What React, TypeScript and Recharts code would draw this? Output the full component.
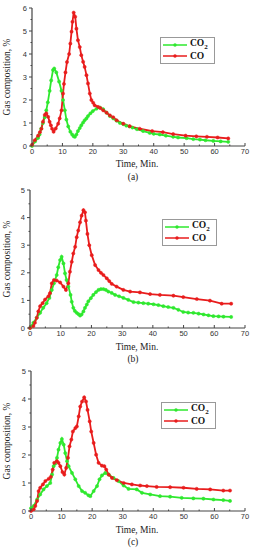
import React from "react";
import { LineChart, Line, XAxis, YAxis } from "recharts";

// Panel (a)
const timeA_CO2 = [0, 1, 2, 2.5, 3, 3.6, 4.2, 4.7, 5.2, 5.8, 6.3, 6.9, 7.3, 8, 8.9, 9.7, 10.2, 10.8, 11.3, 11.9, 12.6, 13.2, 13.7, 14.1, 14.6, 15.1, 15.7, 16.2, 16.8, 17.3, 17.9, 18.4, 19.2, 20, 21.2, 22.3, 23.4, 24.5, 25.6, 26.7, 27.8, 28.9, 30, 31, 32, 33, 34.5, 36.5, 38.7, 40, 42, 44, 46.4, 48, 50.8, 53, 55.2, 57, 59.6, 62, 64.5];
const valA_CO2 = [0, 0.2, 0.35, 0.5, 0.75, 1.0, 1.25, 1.55, 1.9, 2.4, 2.85, 3.3, 3.37, 3.2, 2.8, 2.4, 2.0, 1.55, 1.15, 0.85, 0.62, 0.5, 0.42, 0.4, 0.5, 0.65, 0.78, 0.9, 1.02, 1.12, 1.2, 1.3, 1.42, 1.52, 1.62, 1.67, 1.6, 1.45, 1.3, 1.2, 1.1, 1.0, 0.95, 0.88, 0.85, 0.8, 0.73, 0.65, 0.57, 0.53, 0.5, 0.45, 0.4, 0.37, 0.34, 0.3, 0.28, 0.25, 0.22, 0.2, 0.18];
const timeA_CO = [0, 0.9, 2, 2.6, 3.1, 3.6, 4.2, 4.7, 5.3, 5.8, 6.2, 6.6, 7.1, 7.8, 8.6, 9.1, 9.7, 10.2, 10.5, 11, 11.5, 12.2, 12.6, 13, 13.3, 13.7, 14.2, 14.6, 15.1, 15.7, 16.2, 16.8, 17.3, 17.9, 18.4, 19, 19.5, 20.1, 20.6, 21.7, 22.5, 23.4, 24.5, 25.6, 26.7, 27.8, 30, 32.1, 35.4, 39.5, 43, 46.4, 50.5, 54, 57.5, 61, 64.5];
const valA_CO = [0.05, 0.25, 0.45, 0.6, 0.75, 1.05, 1.35, 1.42, 1.27, 1.05, 0.9, 0.75, 0.62, 0.76, 0.97, 1.2, 1.55, 2.28, 2.7, 3.2, 3.65, 4.0, 4.45, 4.97, 5.4, 5.8, 5.62, 5.1, 4.6, 4.3, 3.95, 3.66, 3.44, 3.08, 2.72, 2.28, 2.0, 1.88, 1.77, 1.7, 1.65, 1.55, 1.45, 1.33, 1.25, 1.12, 0.97, 0.86, 0.75, 0.65, 0.6, 0.52, 0.45, 0.42, 0.4, 0.37, 0.33];

// Panel (b)
const timeB_CO2 = [0, 0.5, 1.1, 2.2, 3.3, 4.3, 5.4, 6.3, 7.1, 7.8, 8.7, 9.2, 9.8, 10.3, 10.9, 11.4, 11.9, 12.5, 13.2, 13.6, 14.1, 14.6, 15.2, 15.8, 16.3, 16.8, 17.4, 17.9, 18.5, 19, 19.8, 20.6, 21.5, 22.3, 23.1, 23.9, 24.7, 25.5, 26.6, 27.7, 29, 30.4, 32, 33.7, 35.3, 36.9, 38.5, 40.2, 41.8, 43.4, 45, 46.7, 48.3, 49.9, 51.5, 53.2, 54.9, 56.5, 58.1, 59.7, 61.4, 63, 65.5];
const valB_CO2 = [0, 0.07, 0.19, 0.37, 0.55, 0.73, 0.9, 1.09, 1.38, 1.62, 1.92, 2.2, 2.46, 2.58, 2.34, 1.98, 1.74, 1.5, 1.2, 0.95, 0.73, 0.62, 0.55, 0.5, 0.45, 0.49, 0.6, 0.73, 0.85, 0.97, 1.08, 1.2, 1.3, 1.38, 1.41, 1.41, 1.38, 1.32, 1.27, 1.2, 1.15, 1.09, 1.02, 0.94, 0.92, 0.9, 0.88, 0.86, 0.83, 0.79, 0.76, 0.73, 0.66, 0.58, 0.56, 0.55, 0.52, 0.49, 0.46, 0.43, 0.42, 0.41, 0.4];
const timeB_CO = [0, 1.1, 1.6, 2.2, 2.7, 3.3, 4.1, 4.9, 6, 6.5, 7.1, 7.8, 8.7, 9.8, 10.9, 11.7, 12.5, 13, 13.6, 14.1, 14.7, 15.2, 15.7, 16.3, 16.8, 17.4, 17.9, 18.2, 18.7, 19.3, 20.1, 21.2, 22.3, 23.1, 23.9, 25, 25.8, 26.6, 28.2, 30.4, 32.6, 35.8, 39.1, 42.3, 46.7, 49.9, 54.3, 58.6, 62.4, 65.5];
const valB_CO = [0, 0.07, 0.19, 0.37, 0.6, 0.79, 0.9, 1.03, 1.15, 1.26, 1.62, 1.74, 1.72, 1.65, 1.5, 1.38, 1.62, 2.04, 2.4, 2.7, 2.94, 3.29, 3.53, 3.83, 4.07, 4.27, 4.19, 3.89, 3.41, 3.0, 2.64, 2.28, 2.1, 2.0, 1.92, 1.8, 1.7, 1.6, 1.5, 1.38, 1.32, 1.29, 1.23, 1.2, 1.17, 1.12, 1.05, 0.99, 0.88, 0.88];

// Panel (c)
const timeC_CO2 = [0, 0.9, 2, 3, 4.1, 5.2, 6.3, 6.9, 7.4, 7.9, 8.5, 9, 9.6, 10.1, 10.7, 11.2, 11.8, 12.3, 13.4, 14.5, 15.6, 16.7, 17.7, 18.8, 19.4, 20.5, 21.6, 22.4, 23.2, 24.3, 25.4, 27, 28.6, 30.3, 31.9, 34.6, 36.3, 39, 42.2, 45.5, 49.3, 53.1, 56.4, 59.7, 62.9, 65.1];
const valC_CO2 = [0.1, 0.18, 0.41, 0.59, 0.77, 0.89, 1.0, 1.3, 1.6, 1.69, 1.9, 2.19, 2.43, 2.57, 2.37, 2.07, 1.78, 1.6, 1.36, 1.13, 0.89, 0.71, 0.65, 0.56, 0.53, 0.71, 0.89, 1.13, 1.27, 1.36, 1.3, 1.18, 1.07, 0.91, 0.79, 0.77, 0.65, 0.59, 0.53, 0.51, 0.47, 0.45, 0.44, 0.41, 0.39, 0.36];
const timeC_CO = [0, 0.9, 1.4, 2, 2.5, 3, 3.9, 4.7, 5.8, 6.5, 7.1, 7.6, 8.5, 9, 9.6, 10.3, 10.9, 11.5, 12.1, 12.6, 13.2, 13.7, 14.5, 15, 15.6, 16.1, 16.7, 17.4, 18, 18.5, 19.2, 19.7, 20.5, 21.3, 22.1, 23.2, 24, 24.6, 25.4, 26.5, 28.1, 30.3, 33, 35.7, 37.9, 41.1, 45.5, 49.9, 54.2, 58.6, 62.9, 65.1];
const valC_CO = [0, 0.06, 0.18, 0.36, 0.71, 0.83, 0.95, 1.07, 1.15, 1.22, 1.48, 1.72, 1.78, 1.72, 1.6, 1.39, 1.3, 1.54, 1.9, 2.31, 2.55, 2.84, 2.96, 3.02, 3.38, 3.73, 3.91, 4.06, 3.91, 3.61, 3.2, 2.84, 2.43, 2.01, 1.72, 1.62, 1.6, 1.48, 1.3, 1.18, 1.1, 1.0, 0.95, 0.91, 0.89, 0.86, 0.85, 0.83, 0.79, 0.77, 0.73, 0.73];

const xTicks = [0, 5, 10, 15, 20, 25, 30, 35, 40, 45, 50, 55, 60, 65, 70];

const GREEN = "#2ee82e";
const RED = "#e81c1c";
const AXIS = "#444";
const SERIF = "'Liberation Serif', 'Times New Roman', serif";
const SANS = "'Liberation Sans', Arial, sans-serif";

const zip = (t: number[], v: number[]) => t.map((x, i) => ({ t: x, v: v[i] }));

function XTick(props: any) {
  const { x, y, payload } = props;
  const major = payload.value % 10 === 0;
  return (
    <g>
      <line x1={x} x2={x} y1={y} y2={y - (major ? 3 : 1.5)} stroke={AXIS} strokeWidth={1} />
      {major && (
        <text x={x} y={y + 8} textAnchor="middle" fontSize={7.5} fontFamily={SANS} fill="#333">
          {payload.value}
        </text>
      )}
    </g>
  );
}

function YTick(props: any) {
  const { x, y, payload } = props;
  const major = payload.value % 1 === 0;
  return (
    <g>
      <line x1={x} x2={x - (major ? 3 : 1.5)} y1={y} y2={y} stroke={AXIS} strokeWidth={1} />
      {major && (
        <text x={x - 5} y={y + 2.6} textAnchor="end" fontSize={7.5} fontFamily={SANS} fill="#333">
          {payload.value}
        </text>
      )}
    </g>
  );
}

function LegendBox({ left, top }: { left: number; top: number }) {
  const row = (color: string, label: React.ReactNode) => (
    <div style={{ display: "flex", alignItems: "center", height: 11.5 }}>
      <svg width={24} height={6} style={{ marginRight: 3 }}>
        <line x1={0} x2={24} y1={3} y2={3} stroke={color} strokeWidth={1.5} />
        <circle cx={12} cy={3} r={1.7} fill={color} />
      </svg>
      <span style={{ fontFamily: SERIF, fontWeight: "bold", fontSize: 9.5, color: "#111" }}>{label}</span>
    </div>
  );
  return (
    <div
      style={{
        position: "absolute",
        left,
        top,
        width: 51,
        height: 24,
        border: "1px solid #999",
        padding: "1px 0 0 2px",
        boxSizing: "content-box",
        background: "#fff",
      }}
    >
      {row(GREEN, <>CO<sub style={{ fontSize: 7 }}>2</sub></>)}
      {row(RED, "CO")}
    </div>
  );
}

interface PanelProps {
  top: number;
  plotTop: number;
  plotBottom: number;
  left: number;
  yMax: number;
  co2: { t: number; v: number }[];
  co: { t: number; v: number }[];
  caption: string;
  timeY: number;
  capY: number;
  legend: { left: number; top: number };
}

function Panel(p: PanelProps) {
  const width = 254;
  const right = 245;
  const axisH = 14;
  const height = p.plotBottom + axisH;
  const yTicks: number[] = [];
  for (let i = 0; i <= p.yMax * 2; i++) yTicks.push(i / 2);
  const plotMid = (p.plotTop + p.plotBottom) / 2;
  const textStyle: React.CSSProperties = {
    position: "absolute",
    whiteSpace: "nowrap",
    fontFamily: SERIF,
    fontSize: 9.5,
    color: "#222",
  };
  return (
    <div style={{ position: "absolute", left: 0, top: p.top, width, height: 180 }}>
      <LineChart
        width={width}
        height={height}
        margin={{ top: p.plotTop, right: width - right, left: 0, bottom: 0 }}
      >
        <XAxis
          dataKey="t"
          type="number"
          domain={[0, 70]}
          ticks={xTicks}
          interval={0}
          tick={<XTick />}
          tickSize={0}
          tickMargin={0}
          tickLine={false}
          axisLine={{ stroke: AXIS, strokeWidth: 1.2 }}
          height={axisH}
          allowDuplicatedCategory={false}
        />
        <XAxis
          xAxisId="top"
          orientation="top"
          type="number"
          domain={[0, 70]}
          tick={false}
          tickLine={false}
          axisLine={{ stroke: AXIS, strokeWidth: 1.2 }}
          height={0}
        />
        <YAxis
          type="number"
          domain={[0, p.yMax]}
          ticks={yTicks}
          interval={0}
          tick={<YTick />}
          tickSize={0}
          tickMargin={0}
          tickLine={false}
          axisLine={{ stroke: AXIS, strokeWidth: 1.2 }}
          width={p.left}
        />
        <YAxis
          yAxisId="right"
          orientation="right"
          type="number"
          domain={[0, p.yMax]}
          tick={false}
          tickLine={false}
          axisLine={{ stroke: AXIS, strokeWidth: 1.2 }}
          width={0}
        />
        <Line
          data={p.co2}
          dataKey="v"
          name="CO2"
          type="linear"
          stroke={GREEN}
          strokeWidth={1.8}
          dot={{ r: 1.6, fill: GREEN, stroke: GREEN, strokeWidth: 0.5 }}
          isAnimationActive={false}
        />
        <Line
          data={p.co}
          dataKey="v"
          name="CO"
          type="linear"
          stroke={RED}
          strokeWidth={1.8}
          dot={{ r: 1.6, fill: RED, stroke: RED, strokeWidth: 0.5 }}
          isAnimationActive={false}
        />
      </LineChart>
      <div style={{ ...textStyle, left: 7, top: plotMid, transform: "translate(-50%, -50%) rotate(-90deg)" }}>
        Gas composition, %
      </div>
      <div style={{ ...textStyle, left: 137, top: p.timeY - p.top, transform: "translate(-50%, -50%)" }}>
        Time, Min.
      </div>
      <div style={{ ...textStyle, left: 133, top: p.capY - p.top, transform: "translate(-50%, -50%)" }}>
        {p.caption}
      </div>
      <LegendBox left={p.legend.left} top={p.legend.top - p.top} />
    </div>
  );
}

export default function App() {
  return (
    <div style={{ position: "absolute", left: 0, top: 0, width: 254, height: 550, background: "#fff", overflow: "hidden" }}>
      <Panel
        top={0}
        plotTop={8}
        plotBottom={146}
        left={32}
        yMax={6}
        co2={zip(timeA_CO2, valA_CO2)}
        co={zip(timeA_CO, valA_CO)}
        caption="(a)"
        timeY={164}
        capY={177}
        legend={{ left: 160, top: 37 }}
      />
      <Panel
        top={180}
        plotTop={10}
        plotBottom={148}
        left={30}
        yMax={5}
        co2={zip(timeB_CO2, valB_CO2)}
        co={zip(timeB_CO, valB_CO)}
        caption="(b)"
        timeY={347}
        capY={359}
        legend={{ left: 162, top: 219 }}
      />
      <Panel
        top={360}
        plotTop={11}
        plotBottom={151}
        left={31}
        yMax={5}
        co2={zip(timeC_CO2, valC_CO2)}
        co={zip(timeC_CO, valC_CO)}
        caption="(c)"
        timeY={530}
        capY={542}
        legend={{ left: 161, top: 402 }}
      />
    </div>
  );
}
